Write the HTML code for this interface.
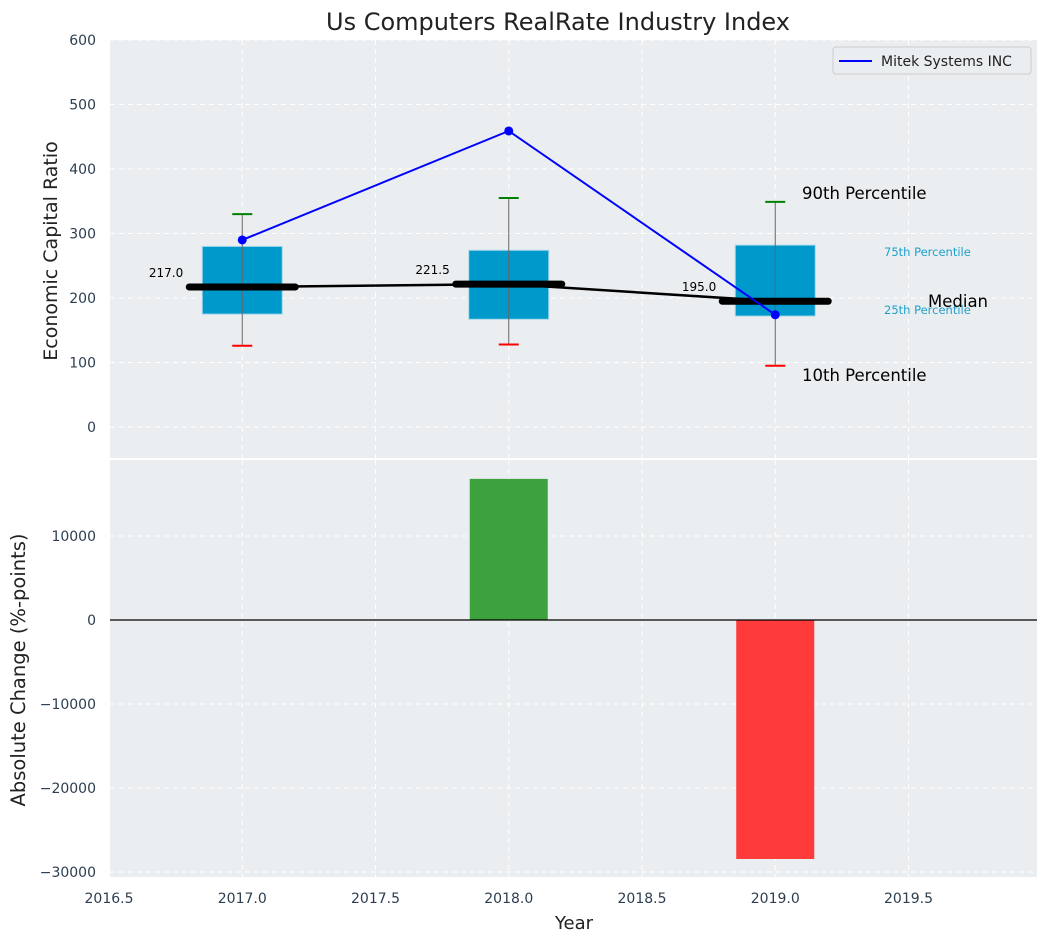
<!DOCTYPE html>
<html><head><meta charset="utf-8">
<style>
body{margin:0;background:#fff;font-family:"Liberation Sans","DejaVu Sans",sans-serif;}
svg text{font-family:"DejaVu Sans","Liberation Sans",sans-serif;}
</style></head>
<body>
<svg id="chart" width="1048" height="942" xmlns="http://www.w3.org/2000/svg">
<rect width="1048" height="942" fill="#fff"/>
<text x="558" y="30" font-size="24" text-anchor="middle" fill="#222">Us Computers RealRate Industry Index</text>
<g id="topPanel"></g>
<g id="botPanel"></g>
</svg>
<script>
const years=[2017,2018,2019];
const p10=[126,128,95];
const p25=[175,167,172];
const medians=[217,221.5,195];
const p75=[280,274,282];
const p90=[330,355,349];
const mitek=[290,459,174];
const changes=[0,16800,-28450];
const topTicks=[0,100,200,300,400,500,600];
const botTicks=[-30000,-20000,-10000,0,10000];
const xTicks=[2016.5,2017,2017.5,2018,2018.5,2019,2019.5];

const NS="http://www.w3.org/2000/svg";
const X0=110,X1=1037;
const xs=v=>109+(v-2016.5)*266.5;
const yT=v=>427-v*0.645;
const yB=v=>620-v*0.0084;
function mk(p,t,a){const el=document.createElementNS(NS,t);for(const k in a)el.setAttribute(k,a[k]);p.appendChild(el);return el;}
const topG=document.getElementById('topPanel'),botG=document.getElementById('botPanel');

let e=mk(topG,'rect',{x:X0,y:40,width:X1-X0,height:418,fill:'#eaeef0'});


e=mk(botG,'rect',{x:X0,y:460,width:X1-X0,height:417,fill:'#eaeef0'});



xTicks.forEach(t=>{
 mk(topG,'line',{x1:xs(t),x2:xs(t),y1:40,y2:458,stroke:'#fff','stroke-dasharray':'5,4','stroke-width':1});
 mk(botG,'line',{x1:xs(t),x2:xs(t),y1:460,y2:877,stroke:'#fff','stroke-dasharray':'5,4','stroke-width':1});
 e=mk(botG,'text',{x:xs(t),y:903,'font-size':14,'text-anchor':'middle',fill:'#2c3e50'});e.textContent=t.toFixed(1);
 
 
});
topTicks.forEach(t=>{
 mk(topG,'line',{x1:X0,x2:X1,y1:yT(t),y2:yT(t),stroke:'#fff','stroke-dasharray':'5,4'});
 e=mk(topG,'text',{x:96,y:yT(t)+5,'font-size':14,'text-anchor':'end',fill:'#2c3e50'});e.textContent=t;
 
 
});
botTicks.forEach(t=>{
 mk(botG,'line',{x1:X0,x2:X1,y1:yB(t),y2:yB(t),stroke:'#fff','stroke-dasharray':'5,4'});
 e=mk(botG,'text',{x:96,y:yB(t)+5,'font-size':14,'text-anchor':'end',fill:'#2c3e50'});e.textContent=t.toString().replace('-','\u2212');
 
 
});

years.forEach((y,i)=>{
 const cx=xs(y);
 e=mk(topG,'rect',{x:cx-40,y:yT(p75[i]),width:80,height:yT(p25[i])-yT(p75[i]),fill:'#0099cc',stroke:'#a8d8ea','stroke-width':1});
 
 
 mk(topG,'line',{x1:cx,x2:cx,y1:yT(p90[i]),y2:yT(p10[i]),stroke:'#666','stroke-width':1});
 mk(topG,'line',{x1:cx-10,x2:cx+10,y1:yT(p90[i]),y2:yT(p90[i]),stroke:'green','stroke-width':2});
 mk(topG,'line',{x1:cx-10,x2:cx+10,y1:yT(p10[i]),y2:yT(p10[i]),stroke:'red','stroke-width':2});
});
mk(topG,'polyline',{points:years.map((y,i)=>xs(y)+','+yT(medians[i])).join(' '),fill:'none',stroke:'#000','stroke-width':2.5});
years.forEach((y,i)=>{
 e=mk(topG,'line',{x1:xs(y)-53,x2:xs(y)+53,y1:yT(medians[i]),y2:yT(medians[i]),stroke:'#000','stroke-width':7,'stroke-linecap':'round'});
 
 
 e=mk(topG,'text',{x:xs(y)-59,y:yT(medians[i])-10,'font-size':12,'text-anchor':'end',fill:'#000'});e.textContent=medians[i].toFixed(1);
 
 
});
e=mk(topG,'polyline',{points:years.map((y,i)=>xs(y)+','+yT(mitek[i])).join(' '),fill:'none',stroke:'blue','stroke-width':2});


years.forEach((y,i)=>{mk(topG,'circle',{cx:xs(y),cy:yT(mitek[i]),r:4.5,fill:'blue'});});

const ann=[[802,199,'90th Percentile',16.5,'#000'],[884,256,'75th Percentile',11.5,'#1fa0cc'],[884,314,'25th Percentile',11.5,'#1fa0cc'],[928,307,'Median',16.5,'#000'],[802,381,'10th Percentile',16.5,'#000']];
ann.forEach(a=>{e=mk(topG,'text',{x:a[0],y:a[1],'font-size':a[3],fill:a[4]});e.textContent=a[2];
 
 });

e=mk(topG,'rect',{x:833,y:47,width:198,height:27,fill:'#eaeef0',stroke:'#ccc',rx:3});


mk(topG,'line',{x1:839,x2:872,y1:61,y2:61,stroke:'blue','stroke-width':2});
e=mk(topG,'text',{x:881,y:66,'font-size':14,fill:'#222'});e.textContent='Mitek Systems INC';



years.forEach((y,i)=>{
 if(!changes[i])return;
 const v=changes[i];
 e=mk(botG,'rect',{x:xs(y)-39,y:Math.min(yB(v),yB(0)),width:78,height:Math.abs(yB(v)-yB(0)),fill:v>0?'#2e9a2e':'#ff2a2a','fill-opacity':0.92});
 
 
});
mk(botG,'line',{x1:X0,x2:X1,y1:yB(0),y2:yB(0),stroke:'#000','stroke-width':1.2});

e=mk(topG,'text',{x:57,y:251,'font-size':19,'text-anchor':'middle',fill:'#222',transform:'rotate(-90 57 251)'});e.textContent='Economic Capital Ratio';


e=mk(botG,'text',{x:25,y:670,'font-size':19.5,'text-anchor':'middle',fill:'#222',transform:'rotate(-90 25 670)'});e.textContent='Absolute Change (%-points)';


e=mk(botG,'text',{x:574,y:929,'font-size':18,'text-anchor':'middle',fill:'#222'});e.textContent='Year';


</script>
</body></html>
